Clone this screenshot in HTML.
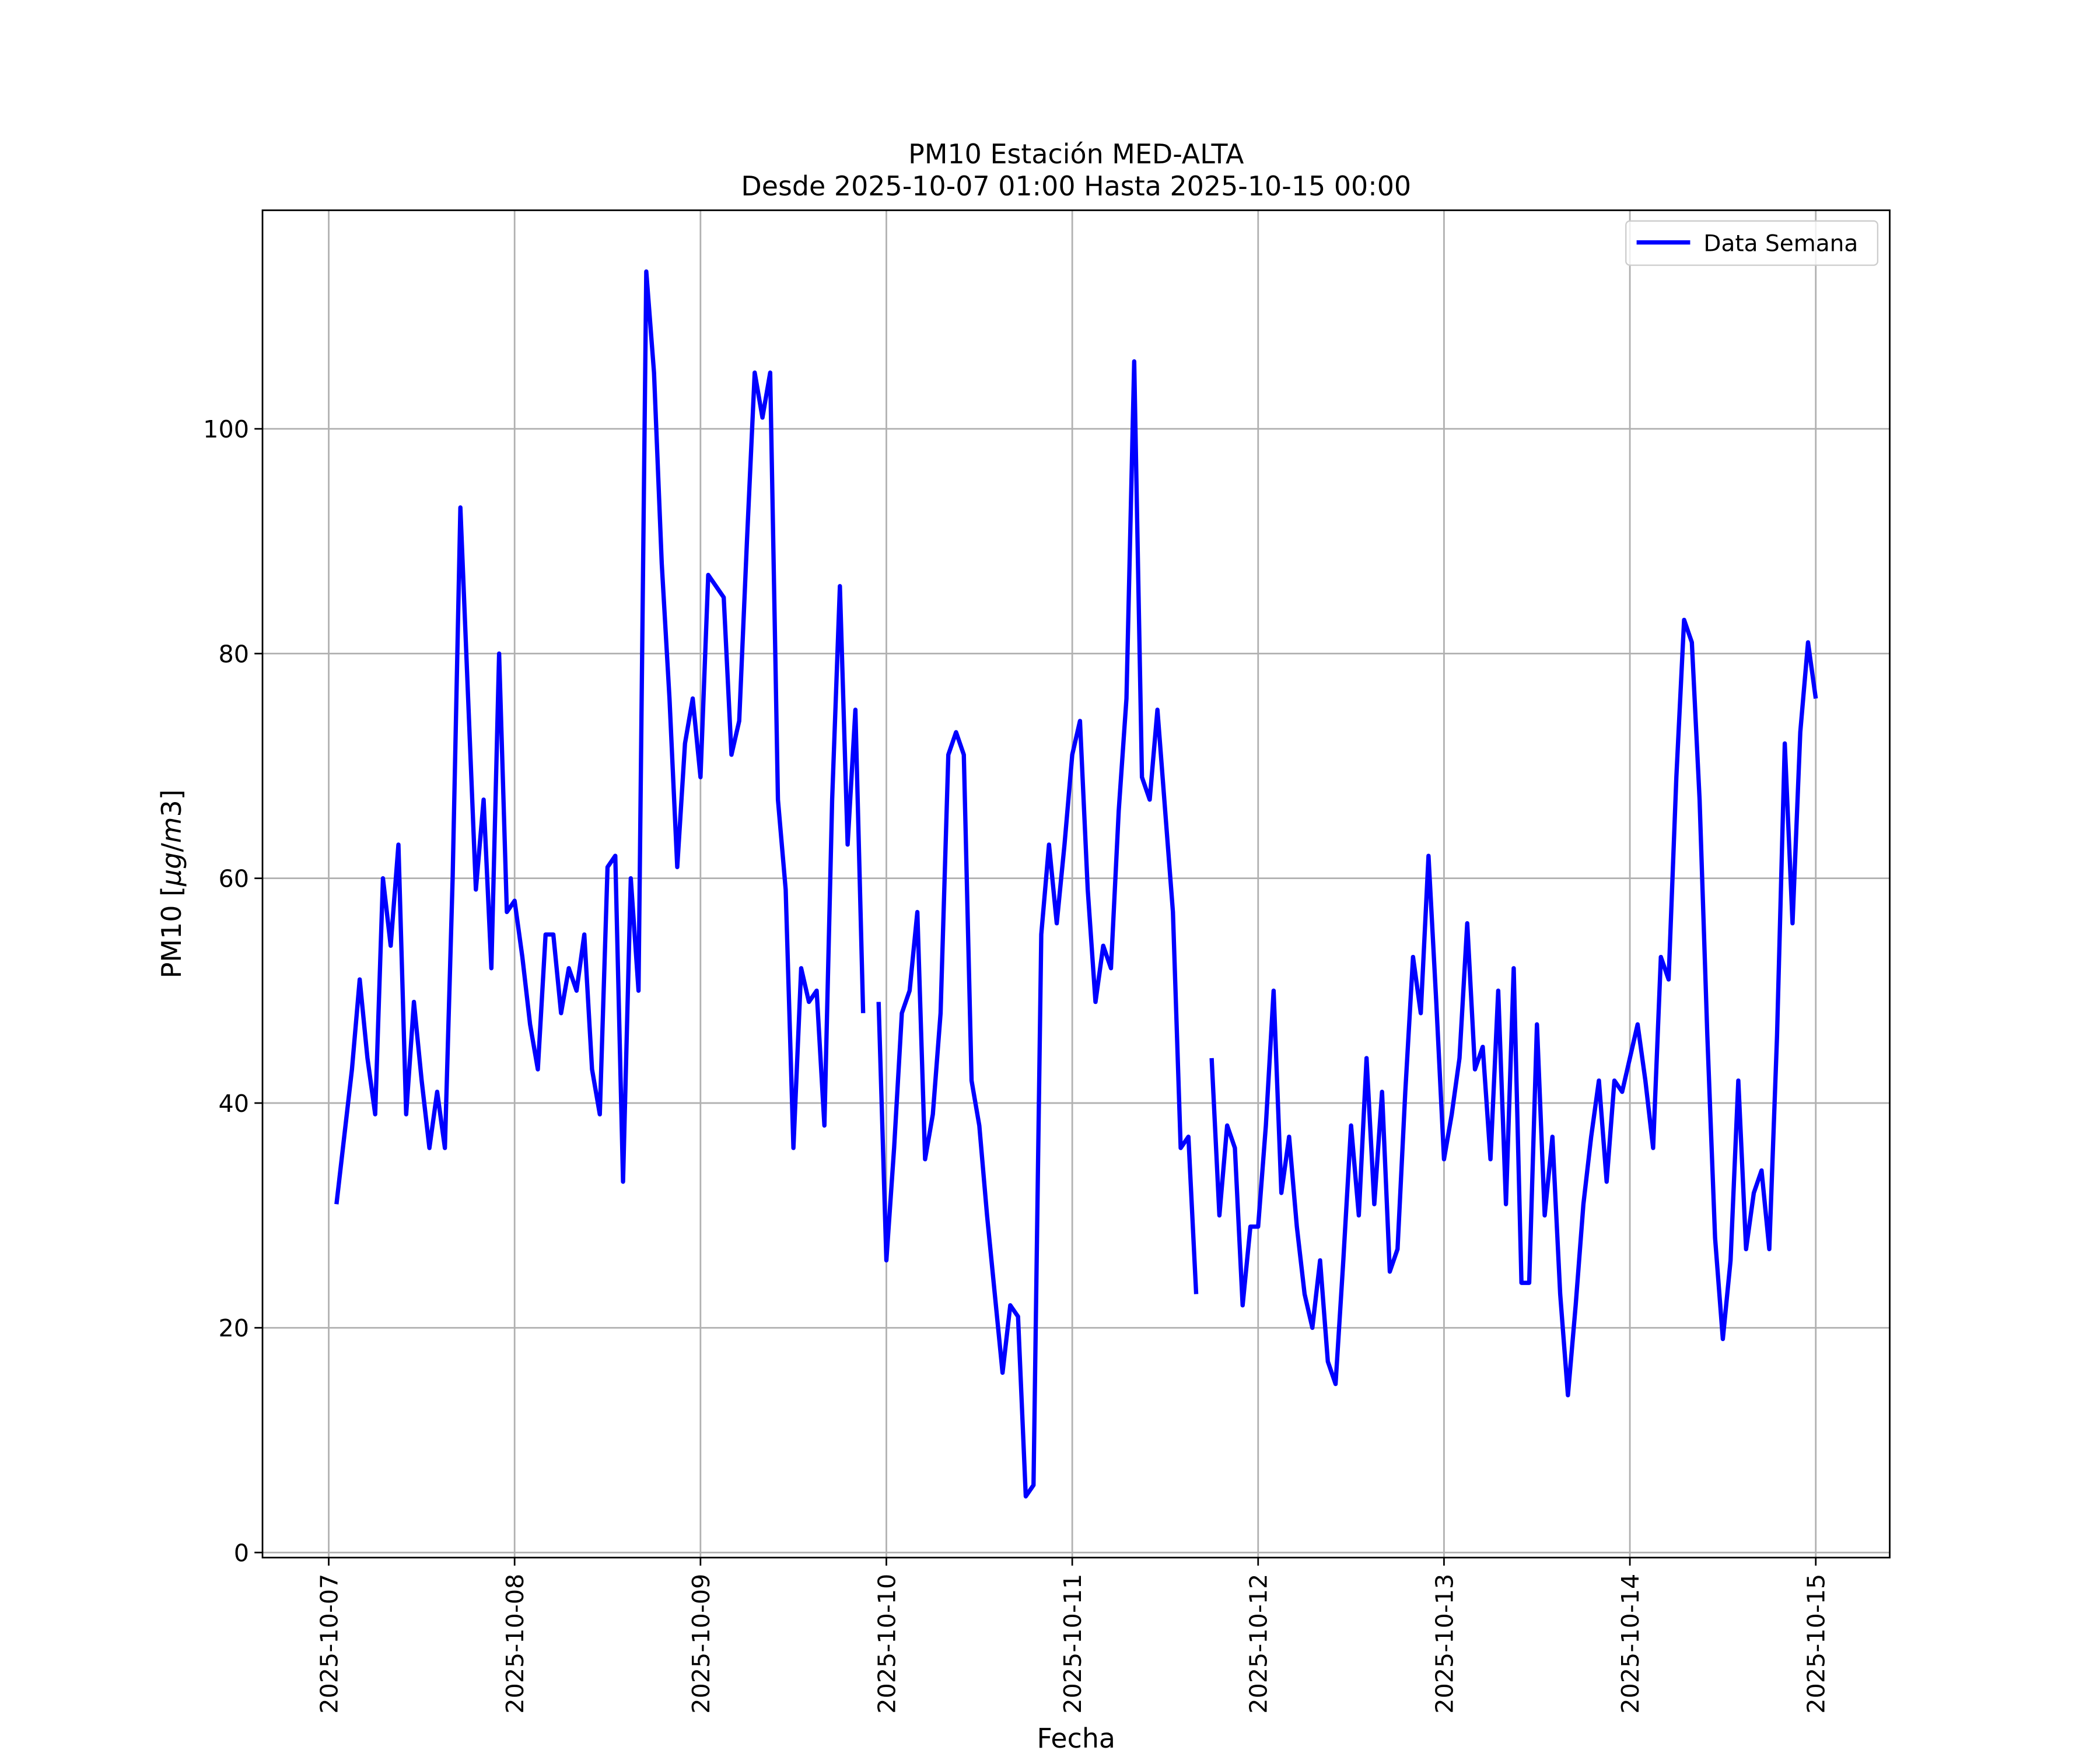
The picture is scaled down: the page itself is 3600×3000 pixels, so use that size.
<!DOCTYPE html>
<html><head><meta charset="utf-8"><style>html,body{margin:0;padding:0;background:#fff}svg{display:block}</style></head>
<body>
<svg id="chart" width="3600" height="3000" viewBox="0 0 1568 1306.67" xmlns="http://www.w3.org/2000/svg" font-family="'DejaVu Sans','Liberation Sans',sans-serif">
<rect width="1568" height="1307" fill="#fff"/>
<g id="grid"></g>
<g id="series"></g>
<rect x="196" y="157" width="1215" height="1006" fill="none" stroke="#000" stroke-width="1.2"/>
<g id="ticks"></g>
<text x="803.5" y="122" font-size="20" text-anchor="middle">PM10 Estación MED-ALTA</text>
<text x="803.5" y="146" font-size="20" text-anchor="middle">Desde 2025-10-07 01:00 Hasta 2025-10-15 00:00</text>
<text x="803.5" y="1305" font-size="20" text-anchor="middle">Fecha</text>
<text transform="translate(135,660) rotate(-90)" font-size="20" text-anchor="middle">PM10 [<tspan font-style="italic">μg</tspan>/<tspan font-style="italic">m</tspan>3]</text>
<g>
<rect x="1214" y="165" width="188" height="33" rx="3" fill="#fff" fill-opacity="0.8" stroke="#ccc" stroke-width="1"/>
<line x1="1222" y1="181" x2="1262" y2="181" stroke="#0000ff" stroke-width="3.2"/>
<text x="1272" y="187.5" font-size="17">Data Semana</text>
</g>
</svg>
<script>
const hours = [];
for (let i = 1; i <= 192; i++) hours.push(i);
const values = [31,37,43,51,44,39,60,54,63,39,49,42,36,41,36,60,93,76,59,67,52,80,57,58,53,47,43,55,55,48,52,50,55,43,39,61,62,33,60,50,114,105,88,76,61,72,76,69,87,86,85,71,74,90,105,101,105,67,59,36,52,49,50,38,67,86,63,75,48,null,49,26,36,48,50,57,35,39,48,71,73,71,42,38,30,23,16,22,21,5,6,55,63,56,63,71,74,59,49,54,52,66,76,106,69,67,75,66,57,36,37,23,null,44,30,38,36,22,29,29,38,50,32,37,29,23,20,26,17,15,26,38,30,44,31,41,25,27,41,53,48,62,49,35,39,44,56,43,45,35,50,31,52,24,24,47,30,37,23,14,22,31,37,42,33,42,41,44,47,42,36,53,51,69,83,81,67,46,28,19,26,42,27,32,34,27,46,72,56,73,81,76];
const xTickLabels = ['2025-10-07','2025-10-08','2025-10-09','2025-10-10','2025-10-11','2025-10-12','2025-10-13','2025-10-14','2025-10-15'];
const yTicks = [0,20,40,60,80,100];

const L=196,R=1411,T=157,B=1163;
const xMin=-8.55,xMax=201.55,yMin=-0.45,yMax=119.45;
const xs=h=>L+(h-xMin)/(xMax-xMin)*(R-L);
const ys=v=>B-(v-yMin)/(yMax-yMin)*(B-T);
const NS='http://www.w3.org/2000/svg';
const mk=(t,a,p)=>{const e=document.createElementNS(NS,t);for(const k in a)e.setAttribute(k,a[k]);p.appendChild(e);return e;};
const grid=document.getElementById('grid'),ticks=document.getElementById('ticks'),series=document.getElementById('series');

xTickLabels.forEach((lab,i)=>{
  const x=xs(i*24);
  const g=mk('line',{x1:x,x2:x,y1:T,y2:B,stroke:'#b0b0b0','stroke-width':1.2},grid);
  
  
  const t=mk('line',{x1:x,x2:x,y1:B,y2:B+6,stroke:'#000','stroke-width':1.2},ticks);
  
  
  const tx=mk('text',{transform:`translate(${x+6.5},${B+12}) rotate(-90)`,'font-size':18,'text-anchor':'end'},ticks);
  tx.textContent=lab;
  
  
});
yTicks.forEach(v=>{
  const y=ys(v);
  const g=mk('line',{x1:L,x2:R,y1:y,y2:y,stroke:'#b0b0b0','stroke-width':1.2},grid);
  
  
  const t=mk('line',{x1:L-6,x2:L,y1:y,y2:y,stroke:'#000','stroke-width':1.2},ticks);
  
  
  const tx=mk('text',{x:L-10,y:y+6.5,'font-size':18,'text-anchor':'end'},ticks);
  tx.textContent=String(v);
  
  
});
let d='',pen=false;
hours.forEach((h,i)=>{
  const v=values[i];
  if(v===null||v===undefined){pen=false;return;}
  d+=(pen?'L':'M')+xs(h).toFixed(2)+' '+ys(v).toFixed(2)+' ';
  pen=true;
});
const p=mk('path',{d:d,fill:'none',stroke:'#0000ff','stroke-width':3.2,'stroke-linejoin':'round'},series);


</script>
</body></html>
